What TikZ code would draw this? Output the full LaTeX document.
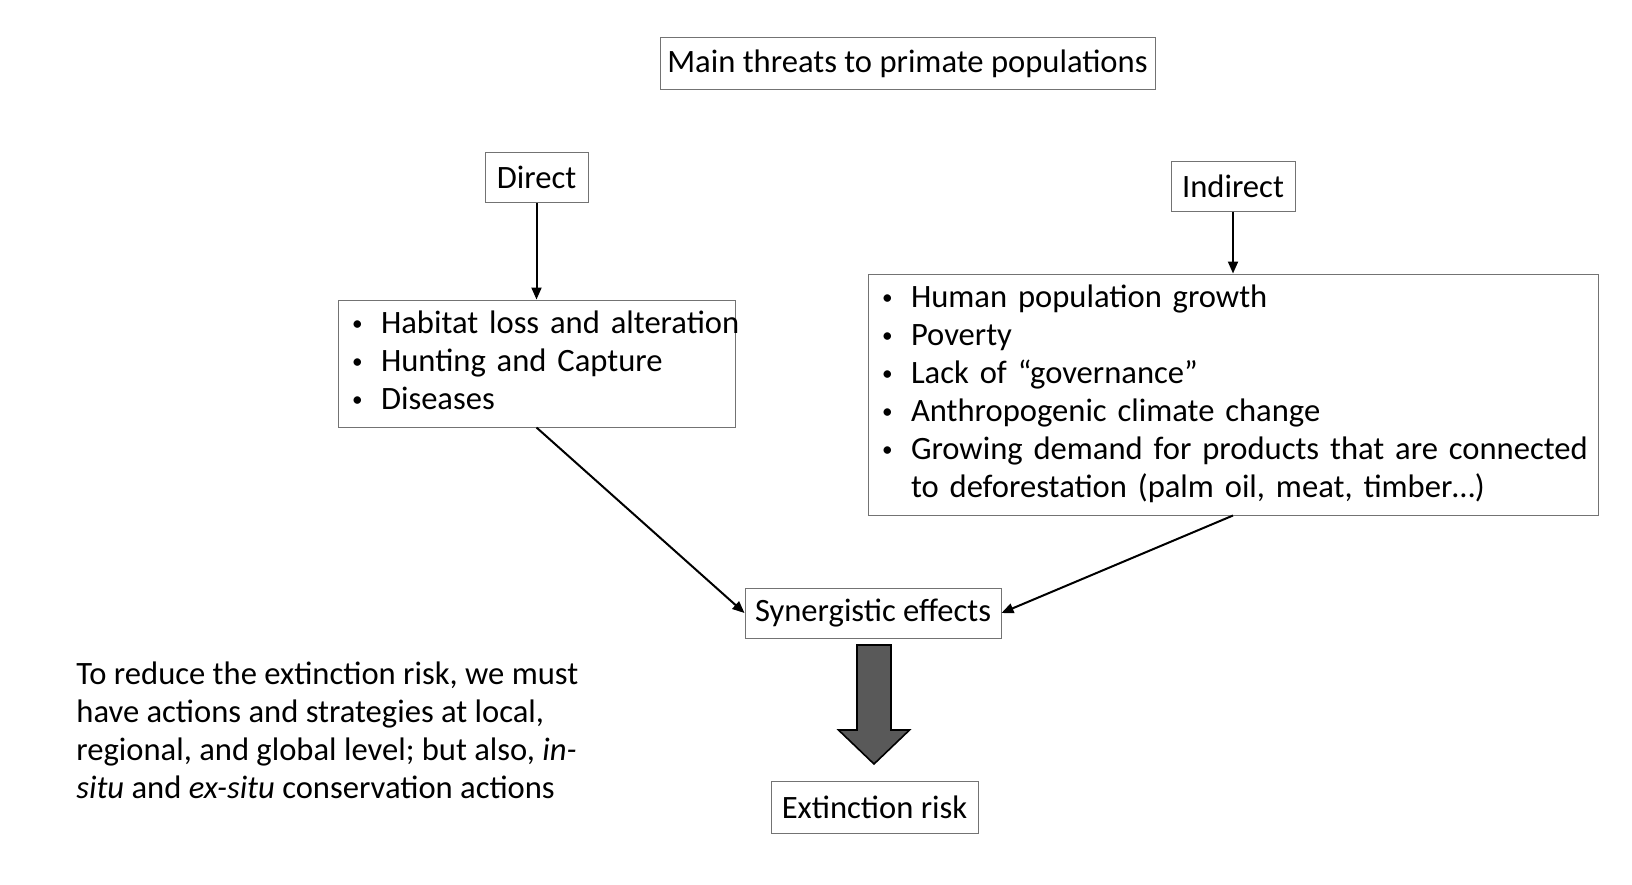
\documentclass[tikz,border=0pt]{standalone}
\usepackage{fontspec}
\setmainfont{Carlito}
\usetikzlibrary{arrows.meta}
\newcommand{\bul}{\makebox[15.5pt][l]{\hspace{1pt}\raisebox{1.2pt}{\scalebox{0.65}{\textbullet}}}}
\begin{document}
\begin{tikzpicture}[x=0.5pt,y=-0.5pt,
	box/.style={draw=black!55, line width=0.5pt, inner sep=0pt, font=\fontsize{16.3}{19}\selectfont},
	listbox/.style={box, inner xsep=6pt, align=left},
	link/.style={-{Triangle[length=6pt,width=5pt]}, line width=1pt}]
	\useasboundingbox (0,0) rectangle (1632,884);
	\node (title) at ( 907.5,  63.5)	[box, minimum width=247.5pt, minimum height=26pt]	{Main threats to primate populations};
	\node (direct) at ( 536.5, 177.5)	[box, minimum width=51.5pt, minimum height=25pt]	{Direct};
	\node (indirect) at (1233, 186)	[box, minimum width=62pt, minimum height=25pt]	{Indirect};
	\node (dlist) at ( 536.5, 363.5)	[listbox, text width=186.5pt, minimum height=63.5pt]
		{\begin{tabular}{@{}l@{}}
		\bul Habitat loss and alteration\\
		\bul Hunting and Capture\\
		\bul Diseases
		\end{tabular}};
	\node (ilist) at (1233, 394.5)	[listbox, text width=353pt, minimum height=120.5pt]
		{\begin{tabular}{@{}l@{}}
		\bul Human population growth\\
		\bul Poverty\\
		\bul Lack of “governance”\\
		\bul Anthropogenic climate change\\
		\bul Growing demand for products that are connected\\
		\hspace*{15.5pt}to deforestation (palm oil, meat, timber…)
		\end{tabular}};
	\node (syn) at ( 873, 613)	[box, minimum width=128pt, minimum height=25pt]	{Synergistic effects};
	\node (ext) at ( 874.5, 807)	[box, minimum width=103.5pt, minimum height=26pt]	{Extinction risk};
	\node (note) at (76, 661)	[anchor=north west, inner sep=0pt, align=left, font=\fontsize{16.3}{19}\selectfont]
		{To reduce the extinction risk, we must\\
		have actions and strategies at local,\\
		regional, and global level; but also, \textit{in-}\\
		\textit{situ} and \textit{ex-situ} conservation actions};
	\draw[link] (direct) -- (dlist);
	\draw[link] (indirect) -- (ilist);
	\draw[link] (dlist.south) -- (syn.west);
	\draw[link] (ilist.south) -- (syn.east);
	% big arrow
	\draw[fill=black!65, line width=0.8pt] (857,645) -- (891,645) -- (891,730) -- (909.5,730)
		-- (874,764) -- (838.5,730) -- (857,730) -- cycle;
\end{tikzpicture}
\end{document}
